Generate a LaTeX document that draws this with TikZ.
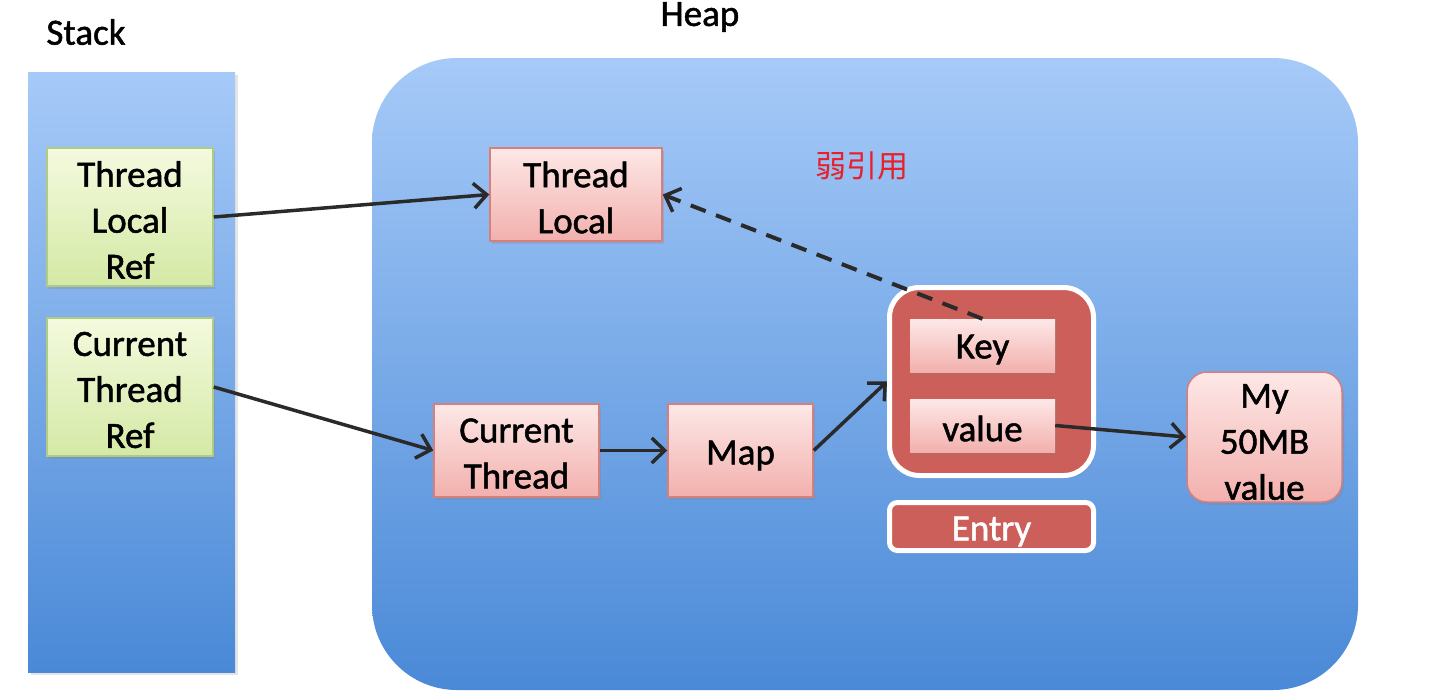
\documentclass[tikz,border=0pt]{standalone}
\usepackage{fontspec}
\setmainfont{Carlito}[FakeBold=1.3]
\newfontfamily\cjk{Noto Sans CJK SC}
\usetikzlibrary{arrows.meta,shadows}
\definecolor{memtop}{HTML}{A6CAF8}
\definecolor{membot}{HTML}{4A89D7}
\definecolor{pinktop}{HTML}{FDE8E7}
\definecolor{pinkbot}{HTML}{F2B0AD}
\definecolor{pinkline}{HTML}{D6807D}
\definecolor{greentop}{HTML}{F4FADE}
\definecolor{greenbot}{HTML}{D4E9A5}
\definecolor{greenline}{HTML}{B2CB84}
\definecolor{entryred}{HTML}{CC5F5A}
\definecolor{arrowcol}{HTML}{2A2A2A}
\definecolor{weakred}{HTML}{E8202A}
\begin{document}
\begin{tikzpicture}[x=1pt,y=-1pt,
  lbl/.style={font=\fontsize{37}{46}\selectfont, inner sep=0pt},
  txt/.style={font=\fontsize{37}{46}\selectfont, inner sep=0pt, align=center},
  membox/.style={shading=axis, top color=memtop, bottom color=membot},
  basebox/.style={rectangle, inner sep=0pt,
    drop shadow={shadow xshift=2pt, shadow yshift=-3pt, opacity=0.25}},
  greenbox/.style={basebox, top color=greentop, bottom color=greenbot, draw=greenline, line width=1.5pt},
  pinkbox/.style={basebox, top color=pinktop, bottom color=pinkbot, draw=pinkline, line width=1.5pt},
  kvbox/.style={basebox, top color=pinktop, bottom color=pinkbot, draw=none},
  entrybox/.style={rectangle, fill=entryred, draw=white, line width=5pt, inner sep=0pt,
    drop shadow={shadow xshift=2pt, shadow yshift=-3pt, opacity=0.25}},
  conn/.style={draw=arrowcol, line width=3.5pt, -{Straight Barb[length=13pt,width=25pt,line width=3.5pt]}},
  weak/.style={conn, dash pattern=on 16pt off 11pt, line width=4pt}]
\useasboundingbox (0,0) rectangle (1444,696);
\fill[white] (0,0) rectangle (1444,696);

% stack and heap
\node[lbl, anchor=center] (stacklbl) at (86,32) {Stack};
\node[lbl, anchor=center] (heaplbl) at (700,17) {Heap};
\path[membox, drop shadow={shadow xshift=3pt, shadow yshift=-3pt, opacity=0.2}] (28,72) rectangle (235,672);
\path[membox, rounded corners=85pt] (372,58) rectangle (1358,690);

% stack frames
\node[greenbox, minimum width=166pt, minimum height=138pt] (tlref) at (130,217) {};
\node[txt] (tlrefT) at ([yshift=-3pt]tlref.center) {Thread\\Local\\Ref};
\node[greenbox, minimum width=166pt, minimum height=138pt] (ctref) at (130,387) {};
\node[txt] (ctrefT) at ([yshift=-3pt]ctref.center) {Current\\Thread\\Ref};

% heap objects
\node[pinkbox, minimum width=172pt, minimum height=93pt] (tl) at (576,194.5) {};
\node[txt] (tlT) at ([yshift=-3pt]tl.center) {Thread\\Local};
\node[pinkbox, minimum width=165pt, minimum height=93pt] (ct) at (516.5,450.5) {};
\node[txt] (ctT) at ([yshift=-3pt]ct.center) {Current\\Thread};
\node[pinkbox, minimum width=145pt, minimum height=93pt] (map) at (740.5,450.5) {};
\node[txt] (mapT) at ([yshift=-5pt]map.center) {Map};
\node[entrybox, rounded corners=30pt, minimum width=204pt, minimum height=188pt] (entry) at (991.5,381.5) {};
\node[kvbox, minimum width=145pt, minimum height=53pt] (key) at (982.5,345.5) {};
\node[txt] (keyT) at ([yshift=-4pt]key.center) {Key};
\node[kvbox, minimum width=145pt, minimum height=53pt] (val) at (982.5,425.5) {};
\node[txt] (valT) at ([yshift=-3pt]val.center) {value};
\node[entrybox, rounded corners=8pt, minimum width=204pt, minimum height=48pt] (entrylbl) at (991.5,526.5) {};
\node[txt, text=white] (entrylblT) at ([yshift=-5pt]entrylbl.center) {Entry};
\node[pinkbox, rounded corners=20pt, minimum width=155pt, minimum height=130pt] (big) at (1264.5,437) {};
\node[txt] (bigT) at ([yshift=-5pt]big.center) {My\\50MB\\value};

\node[font=\cjk\fontsize{31}{36}\selectfont, text=weakred, inner sep=0pt] (weaklbl) at (862,166) {弱引用};

% connectors
\draw[conn] (tlref.east) -- (tl.west);
\draw[conn] (ctref.east) -- (ct.west);
\draw[conn] (ct.east) -- (map.west);
\draw[conn] (map.east) -- (entry.west);
\draw[conn] (val.east) -- (big.west);
\draw[weak] (key.north) -- (tl.east);
\end{tikzpicture}
\end{document}
